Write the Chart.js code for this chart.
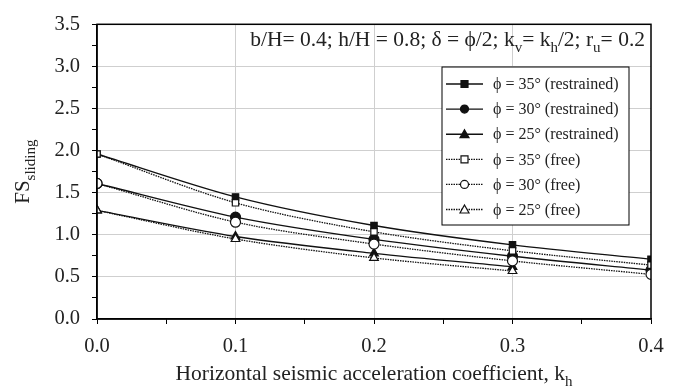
<!DOCTYPE html>
<html>
<head>
<meta charset="utf-8">
<script src="https://cdn.jsdelivr.net/npm/chart.js@4"></script>
<style>
  html, body { margin: 0; padding: 0; background: #fff; }
  #wrap { width: 680px; height: 388px; }
</style>
</head>
<body>
<div id="wrap"><canvas id="fs" width="680" height="388"></canvas></div>
<script>
// horizontal seismic coefficient kh
let kh = [0.0, 0.1, 0.2, 0.3, 0.4];

// FS sliding, restrained wall
let r35 = [1.96, 1.45, 1.11, 0.88, 0.71];
let r30 = [1.61, 1.21, 0.945, 0.745, 0.58];
let r25 = [1.29, 0.98, 0.78, 0.62, null];

// FS sliding, free wall
let f35 = [1.96, 1.38, 1.035, 0.81, 0.64];
let f30 = [1.61, 1.15, 0.89, 0.69, 0.53];
let f25 = [1.29, 0.95, 0.725, 0.57, null];

let names = [
    'ϕ = 35° (restrained)',
    'ϕ = 30° (restrained)',
    'ϕ = 25° (restrained)',
    'ϕ = 35° (free)',
    'ϕ = 30° (free)',
    'ϕ = 25° (free)'
];

let serif = "'Liberation Serif', 'Times New Roman', serif";

function pts(vals) {
    return kh.map((x, i) => ({ x: x, y: vals[i] }));
}

function serie(label, vals, shape, filled, dotted) {
    return {
        label: label,
        data: pts(vals),
        borderColor: '#111',
        borderWidth: dotted ? 1.3 : 1.4,
        borderDash: dotted ? [1.5, 1] : [],
        pointStyle: shape,
        pointRadius: shape === 'rect' ? 4.5 : 5,
        pointBorderWidth: 1.2,
        pointBorderColor: '#111',
        pointBackgroundColor: filled ? '#111' : '#fff',
        tension: 0.3,
        spanGaps: false,
        order: dotted ? 0 : 1
    };
}

let sets = [
    serie(names[0], r35, 'rect', true, false),
    serie(names[1], r30, 'circle', true, false),
    serie(names[2], r25, 'triangle', true, false),
    serie(names[3], f35, 'rect', false, true),
    serie(names[4], f30, 'circle', false, true),
    serie(names[5], f25, 'triangle', false, true)
];

// text pieces with subscripts
function rich(ctx, parts, x, y, size, align) {
    let big = size + 'px ' + serif;
    let small = Math.round(size * 0.7) + 'px ' + serif;
    let w = 0;
    parts.forEach(p => {
        ctx.font = p.sub ? small : big;
        w += ctx.measureText(p.t).width;
    });
    let cx = align === 'right' ? x - w : align === 'center' ? x - w / 2 : x;
    ctx.textAlign = 'left';
    ctx.textBaseline = 'alphabetic';
    parts.forEach(p => {
        ctx.font = p.sub ? small : big;
        ctx.fillText(p.t, cx, p.sub ? y + size * 0.27 : y);
        cx += ctx.measureText(p.t).width;
    });
}

function marker(ctx, shape, filled, x, y) {
    ctx.save();
    ctx.fillStyle = filled ? '#111' : '#fff';
    ctx.strokeStyle = '#111';
    ctx.lineWidth = 1.2;
    ctx.setLineDash([]);
    ctx.beginPath();
    if (shape === 'rect') {
        ctx.rect(x - 3.5, y - 3.5, 7, 7);
    } else if (shape === 'circle') {
        ctx.arc(x, y, 4, 0, Math.PI * 2);
    } else {
        ctx.moveTo(x, y - 4.5);
        ctx.lineTo(x + 4.5, y + 3.5);
        ctx.lineTo(x - 4.5, y + 3.5);
        ctx.closePath();
    }
    ctx.fill();
    ctx.stroke();
    ctx.restore();
}

let extras = {
    id: 'extras',
    afterDraw(chart) {
        let ctx = chart.ctx;
        let a = chart.chartArea;
        ctx.save();

        // frame
        ctx.strokeStyle = '#000';
        ctx.lineWidth = 1.5;
        ctx.strokeRect(a.left, a.top, a.right - a.left, a.bottom - a.top);

        ctx.fillStyle = '#222';
        // parameters note
        rich(ctx, [
            { t: 'b/H= 0.4; h/H = 0.8; δ = ϕ/2; k' }, { t: 'v', sub: true },
            { t: '= k' }, { t: 'h', sub: true },
            { t: '/2; r' }, { t: 'u', sub: true },
            { t: '= 0.2' }
        ], 645, 46, 21.5, 'right');

        // axis titles
        rich(ctx, [
            { t: 'Horizontal seismic acceleration coefficient, k' }, { t: 'h', sub: true }
        ], (a.left + a.right) / 2, 380, 21.5, 'center');

        ctx.save();
        ctx.translate(29, (a.top + a.bottom) / 2);
        ctx.rotate(-Math.PI / 2);
        rich(ctx, [{ t: 'FS' }, { t: 'sliding', sub: true }], 0, 0, 21, 'center');
        ctx.restore();

        // legend box
        let bx = 442, by = 67, bw = 187, bh = 158;
        ctx.fillStyle = '#fff';
        ctx.fillRect(bx, by, bw, bh);
        ctx.strokeStyle = '#000';
        ctx.lineWidth = 1;
        ctx.strokeRect(bx, by, bw, bh);

        sets.forEach((ds, i) => {
            let y = 84 + i * 25.1;
            ctx.strokeStyle = '#111';
            ctx.lineWidth = ds.borderWidth;
            ctx.setLineDash(ds.borderDash);
            ctx.beginPath();
            ctx.moveTo(446, y);
            ctx.lineTo(483, y);
            ctx.stroke();
            ctx.setLineDash([]);
            marker(ctx, ds.pointStyle, ds.pointBackgroundColor === '#111', 464.5, y);
            ctx.fillStyle = '#222';
            ctx.font = '16px ' + serif;
            ctx.textAlign = 'left';
            ctx.textBaseline = 'middle';
            ctx.fillText(ds.label, 493, y + 1);
        });

        ctx.restore();
    }
};

function isMajor(v, step) {
    let r = v / step;
    return Math.abs(r - Math.round(r)) < 1e-6;
}

new Chart(document.getElementById('fs'), {
    type: 'line',
    data: { datasets: sets },
    options: {
        responsive: false,
        animation: false,
        layout: { padding: { top: 17, right: 29, left: 0, bottom: 0 } },
        plugins: {
            legend: { display: false },
            tooltip: { enabled: false }
        },
        scales: {
            x: {
                type: 'linear',
                min: 0,
                max: 0.4,
                afterFit(s) { s.height = 69; },
                ticks: {
                    stepSize: 0.05,
                    autoSkip: false,
                    maxRotation: 0,
                    padding: 10,
                    color: '#222',
                    font: { family: serif, size: 20.5 },
                    callback: v => isMajor(v, 0.1) ? v.toFixed(1) : ''
                },
                grid: {
                    color: c => (isMajor(c.tick.value, 0.1) && c.tick.value > 0.01 && c.tick.value < 0.39) ? '#cfcfcf' : 'rgba(0,0,0,0)',
                    tickColor: '#000',
                    tickLength: 5,
                    lineWidth: 1
                },
                border: { color: '#000', width: 1.5 }
            },
            y: {
                min: 0,
                max: 3.5,
                afterFit(s) { s.width = 97; },
                ticks: {
                    stepSize: 0.25,
                    autoSkip: false,
                    padding: 12,
                    color: '#222',
                    font: { family: serif, size: 20.5 },
                    callback: v => isMajor(v, 0.5) ? v.toFixed(1) : ''
                },
                grid: {
                    color: c => (isMajor(c.tick.value, 0.5) && c.tick.value > 0.01 && c.tick.value < 3.49) ? '#cfcfcf' : 'rgba(0,0,0,0)',
                    tickColor: '#000',
                    tickLength: 5,
                    lineWidth: 1
                },
                border: { color: '#000', width: 1.5 }
            }
        }
    },
    plugins: [extras]
});
</script>
</body>
</html>
